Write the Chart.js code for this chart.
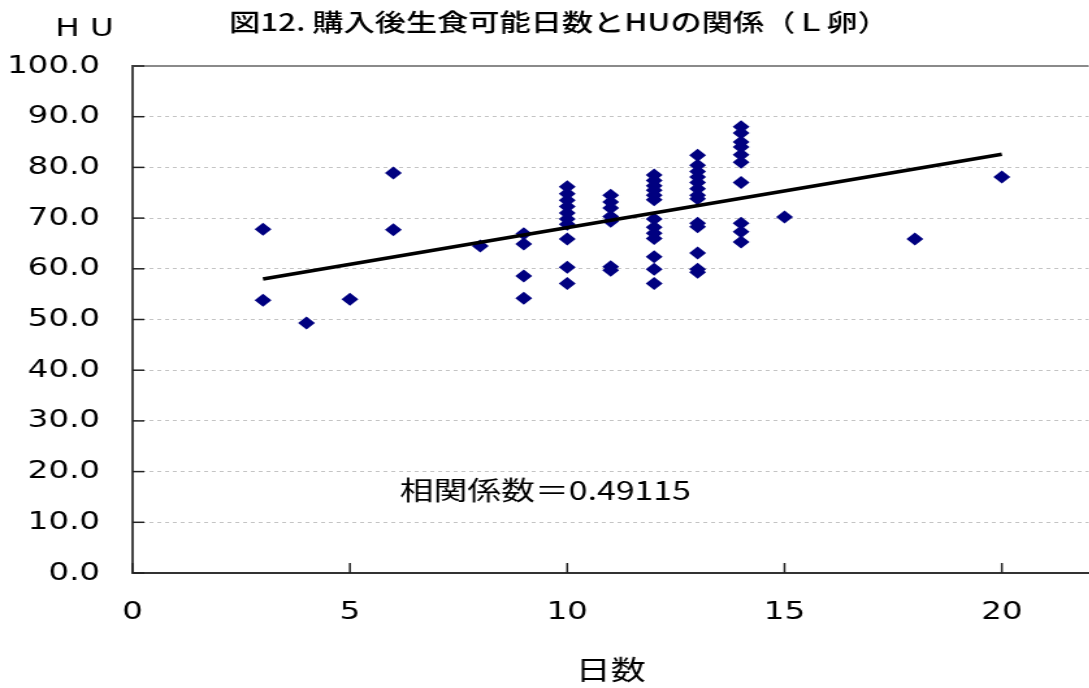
<!DOCTYPE html>
<html>
<head>
<meta charset="utf-8">
<script src="https://cdn.jsdelivr.net/npm/chart.js@4.4.1/dist/chart.umd.min.js"></script>
<style>
	html, body { margin: 0; padding: 0; background: #fff; overflow: hidden; }
	/* le graphique d'origine est etire horizontalement, on fait pareil */
	#wrap { width: 844px; height: 688px; transform: scaleX(1.3); transform-origin: 0 0; }
</style>
</head>
<body>
<div id="wrap"><canvas id="huChart" width="844" height="688"></canvas></div>
<script>
// donnees (jours, HU)
const days = [
	3, 3,
	4,
	5,
	6, 6,
	8,
	9, 9, 9, 9,
	10, 10, 10, 10, 10, 10, 10, 10, 10, 10,
	11, 11, 11, 11, 11, 11, 11,
	12, 12, 12, 12, 12, 12, 12, 12, 12, 12, 12, 12, 12,
	13, 13, 13, 13, 13, 13, 13, 13, 13, 13, 13, 13, 13,
	14, 14, 14, 14, 14, 14, 14, 14, 14, 14,
	15,
	18,
	20
];
const huValues = [
	67.8, 53.8,
	49.3,
	54.0,
	78.9, 67.7,
	64.5,
	66.9, 64.9, 58.6, 54.2,
	76.2, 74.8, 73.5, 72.3, 71.0, 69.8, 68.8, 65.9, 60.3, 57.1,
	74.5, 73.2, 72.0, 70.3, 69.4, 60.4, 59.7,
	78.5, 77.4, 76.4, 75.5, 74.5, 73.6, 69.8, 68.2, 67.0, 66.0, 62.4, 59.9, 57.1,
	82.4, 80.4, 79.2, 78.1, 77.0, 75.8, 74.5, 73.8, 69.0, 68.3, 63.1, 59.9, 59.3,
	88.0, 86.8, 85.0, 84.0, 82.5, 81.0, 77.0, 69.0, 67.3, 65.3,
	70.2,
	65.9,
	78.1
];

// droite de tendance (extremites)
const trendX = [3, 20];
const trendY = [58.0, 82.6];

const xTicks = [0, 5, 10, 15, 20];
const yTicks = [0, 10, 20, 30, 40, 50, 60, 70, 80, 90, 100];

const chartTitle = '図12. 購入後生食可能日数とHUの関係（Ｌ卵）';
const yLabel = 'H U';
const xLabel = '日数';
const corrText = '相関係数＝0.49115';
const corrPos = { x: 6.15, y: 16.4 }; // en valeurs d'axes

const tickFont = 'DejaVu Sans';
const jpFont = '"Noto Sans CJK JP", "DejaVu Sans"';

document.addEventListener('DOMContentLoaded', function()
{
	drawChart();
});

// titre, "H U", correlation + petits ticks vers l'interieur
const extrasPlugin = {
	id: 'extras',
	afterDraw(chart) {
		const ctx = chart.ctx;
		const area = chart.chartArea;
		const xs = chart.scales.x;
		const ys = chart.scales.y;

		ctx.save();
		// bord du haut gris
		ctx.strokeStyle = '#8a8a8a';
		ctx.lineWidth = 2;
		ctx.beginPath();
		ctx.moveTo(area.left, area.top);
		ctx.lineTo(area.right, area.top);
		ctx.stroke();

		// ticks interieurs
		ctx.strokeStyle = '#222';
		ctx.lineWidth = 1.5;
		xTicks.forEach(v => {
			const px = xs.getPixelForValue(v);
			ctx.beginPath();
			ctx.moveTo(px, area.bottom);
			ctx.lineTo(px, area.bottom - 10);
			ctx.stroke();
		});
		yTicks.forEach(v => {
			const py = ys.getPixelForValue(v);
			ctx.beginPath();
			ctx.moveTo(area.left, py);
			ctx.lineTo(area.left + 9, py);
			ctx.stroke();
		});

		ctx.fillStyle = '#000';
		ctx.textBaseline = 'middle';

		ctx.font = '500 24px ' + jpFont;
		ctx.textAlign = 'center';
		ctx.fillText(chartTitle, 430, 22);

		ctx.font = '25px ' + tickFont;
		ctx.fillText(yLabel, 65, 29);

		ctx.font = '26px ' + jpFont;
		ctx.textAlign = 'left';
		ctx.fillText(corrText, xs.getPixelForValue(corrPos.x), ys.getPixelForValue(corrPos.y));
		ctx.restore();
	}
};

function drawChart()
{
	const points = days.map((d, i) => ({ x: d, y: huValues[i] }));
	const trend = trendX.map((d, i) => ({ x: d, y: trendY[i] }));

	const ctx = document.getElementById('huChart').getContext('2d');
	new Chart(ctx, {
		type: 'scatter',
		data: {
			datasets: [
				{
					label: 'HU',
					data: points,
					pointStyle: 'rectRot',
					pointRadius: 6.5,
					backgroundColor: '#000080',
					borderColor: '#000080',
					borderWidth: 0,
					order: 2
				},
				{
					label: 'trend',
					type: 'line',
					data: trend,
					borderColor: '#000',
					borderWidth: 3.5,
					pointRadius: 0,
					fill: false,
					order: 1
				}
			]
		},
		options: {
			responsive: false,
			animation: false,
			layout: { padding: { top: 66, left: 0, right: 0, bottom: 0 } },
			plugins: {
				legend: { display: false },
				tooltip: { enabled: false }
			},
			scales: {
				x: {
					type: 'linear',
					min: 0,
					max: 22,
					afterBuildTicks: scale => {
						scale.ticks = xTicks.map(v => ({ value: v }));
					},
					afterFit: scale => { scale.height = 115; },
					grid: { display: false, drawTicks: false },
					border: { display: true, color: '#333', width: 2 },
					ticks: {
						padding: 24,
						color: '#000',
						font: { family: tickFont, size: 25 }
					},
					title: {
						display: true,
						text: xLabel,
						color: '#000',
						font: { family: jpFont, size: 27 },
						padding: { top: 0, bottom: 2 }
					}
				},
				y: {
					min: 0,
					max: 100,
					afterBuildTicks: scale => {
						scale.ticks = yTicks.map(v => ({ value: v }));
					},
					afterFit: scale => { scale.width = 102; },
					grid: {
						color: '#c4c4c4',
						lineWidth: 1,
						drawTicks: false
					},
					border: { display: true, color: '#444', width: 2, dash: [3, 3] },
					ticks: {
						padding: 25,
						color: '#000',
						font: { family: tickFont, size: 25 },
						callback: v => Number(v).toFixed(1)
					}
				}
			}
		},
		plugins: [extrasPlugin]
	});
}
</script>
</body>
</html>
